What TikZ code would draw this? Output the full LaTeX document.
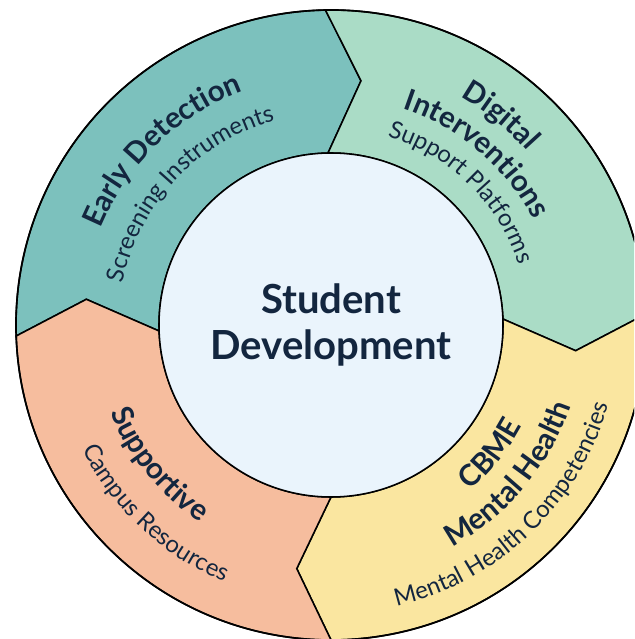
\documentclass[tikz,border=0pt]{standalone}
\usepackage{fontspec}
\setmainfont{Lato}
\usepackage{xcolor}
\usetikzlibrary{decorations.text}
\definecolor{ink}{HTML}{13263F}
\definecolor{tealseg}{HTML}{7CC1BD}
\definecolor{mintseg}{HTML}{AADCC6}
\definecolor{sandseg}{HTML}{FAE6A0}
\definecolor{peachseg}{HTML}{F6BD9E}
\definecolor{hubfill}{HTML}{EAF4FC}
\newcommand{\ringtitle}{\fontsize{21}{24}\selectfont\bfseries}
\newcommand{\ringsub}{\fontsize{17}{20}\selectfont}

\begin{document}
\begin{tikzpicture}[x=0.025cm,y=0.025cm,
  seg/.style={draw=black,line width=1.1pt,line join=miter},
  ringtext/.style={decorate,decoration={text along path,text align=center,text color=ink,text={#1}}}]
\useasboundingbox (-331,-314) rectangle (303,325);
\clip (-331,-314) rectangle (303,325);
\fill[white] (-331,-314) rectangle (303,325);
% four sectors, each tip points clockwise into the next one
\filldraw[seg,fill=tealseg] (182:315) arc[start angle=182,end angle=91,radius=315] -- (83:246) -- (91:172) arc[start angle=91,end angle=182,radius=172] -- (174:246) -- cycle;
\filldraw[seg,fill=mintseg] (91:315) arc[start angle=91,end angle=2,radius=315] -- (-6:246) -- (2:172) arc[start angle=2,end angle=91,radius=172] -- (83:246) -- cycle;
\filldraw[seg,fill=sandseg] (2:315) arc[start angle=2,end angle=-90,radius=315] -- (-98:246) -- (-90:172) arc[start angle=-90,end angle=2,radius=172] -- (-6:246) -- cycle;
\filldraw[seg,fill=peachseg] (-90:315) arc[start angle=-90,end angle=-178,radius=315] -- (-186:246) -- (-178:172) arc[start angle=-178,end angle=-90,radius=172] -- (-98:246) -- cycle;
\draw[line width=1.2pt] (0,0) circle[radius=315];
% hub
\filldraw[seg,fill=hubfill] (0,0) circle[radius=172];
\node[font=\fontsize{28.5}{33}\selectfont\bfseries,text=ink,align=center] (hub) at (0,0) {Student\\Development};
% upper labels run clockwise, lower ones counter-clockwise
\path[ringtext={|\ringtitle|Early Detection}] (189:250) arc[start angle=189,end angle=79,radius=250];
\path[ringtext={|\ringsub|Screening Instruments}] (197:212) arc[start angle=197,end angle=77,radius=212];
\path[ringtext={|\ringtitle|Digital}] (101:262) arc[start angle=101,end angle=1,radius=262];
\path[ringtext={|\ringtitle|Interventions}] (104.5:228) arc[start angle=104.5,end angle=-5.5,radius=228];
\path[ringtext={|\ringsub|Support Platforms}] (105.6:197) arc[start angle=105.6,end angle=-14.4,radius=197];
\path[ringtext={|\ringtitle|Supportive}] (164:237) arc[start angle=164,end angle=274,radius=237];
\path[ringtext={|\ringsub|Campus Resources}] (172:278) arc[start angle=172,end angle=282,radius=278];
\path[ringtext={|\ringtitle|CBME}] (271:216) arc[start angle=271,end angle=371,radius=216];
\path[ringtext={|\ringtitle|Mental Health}] (265:253) arc[start angle=265,end angle=375,radius=253];
\path[ringtext={|\ringsub|Mental Health Competencies}] (253.5:289) arc[start angle=253.5,end angle=373.5,radius=289];
\end{tikzpicture}
\end{document}
